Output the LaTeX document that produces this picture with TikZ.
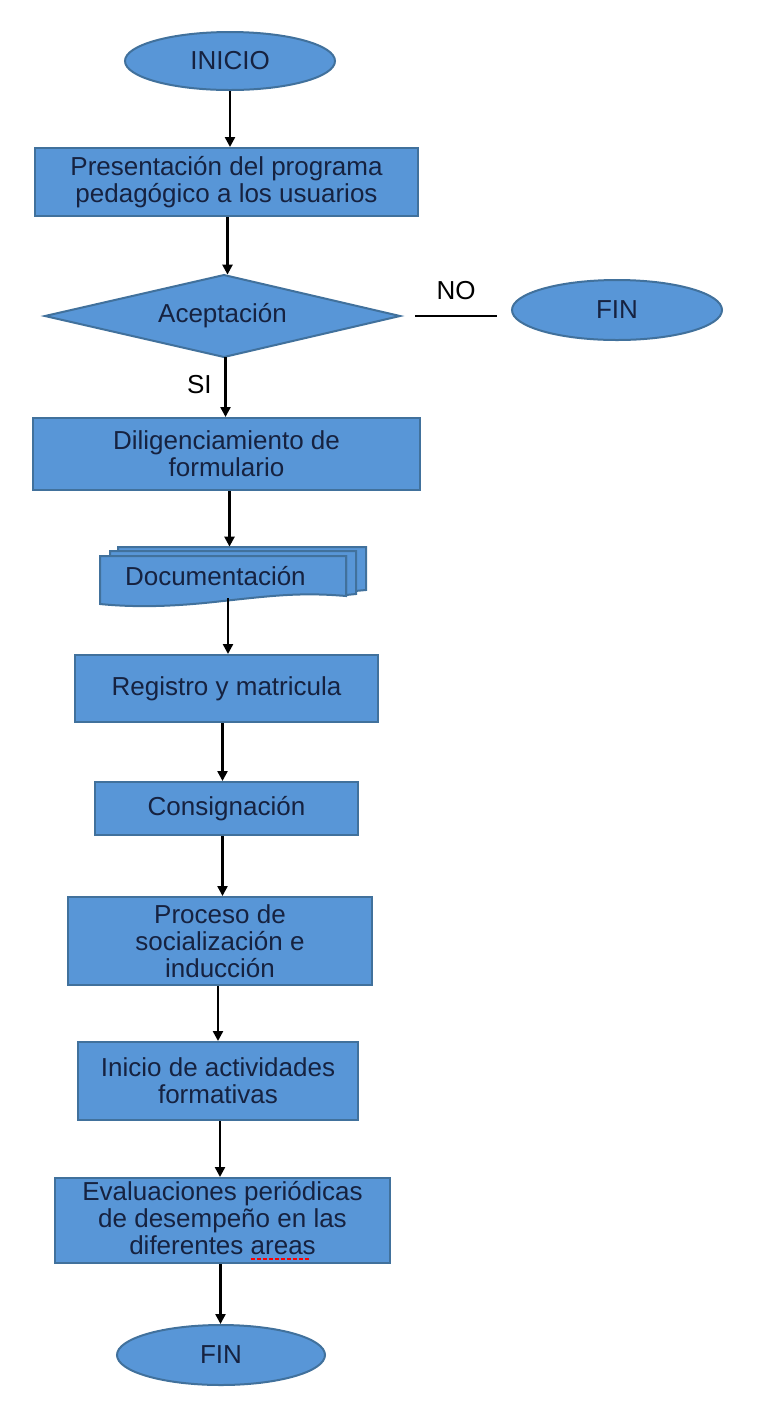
\documentclass[tikz,border=0pt]{standalone}
\usepackage{fontspec}
\setmainfont{Liberation Sans}
\usetikzlibrary{shapes.geometric,arrows.meta}
\definecolor{boxfill}{RGB}{88,150,215}
\definecolor{boxline}{RGB}{65,113,156}
\definecolor{txt}{RGB}{22,34,64}
\newsavebox{\sqbox}
\newcommand{\redsquig}[1]{\sbox{\sqbox}{#1}\rlap{\raisebox{-2.5pt}{\textcolor{red}{\leaders\hbox{\rule{2pt}{0.9pt}\hspace{1pt}}\hskip\wd\sqbox}}}#1}
\begin{document}
\begin{tikzpicture}[x=0.5pt,y=-0.5pt,
  base/.style={draw=boxline, line width=1pt, fill=boxfill, text=txt, inner sep=0pt,
    align=center, font=\fontsize{13}{13.5}\selectfont},
  box/.style={base, rectangle},
  oval/.style={base, ellipse},
  arr/.style={-{Triangle[length=5pt,width=5pt]}, line width=1.2pt, black},
  lbl/.style={font=\fontsize{13}{13.5}\selectfont, text=black}
]
\useasboundingbox (0,0) rectangle (760,1405);
\fill[white] (0,0) rectangle (760,1405);

\node[oval, minimum width=105pt, minimum height=29pt] (inicio) at (230,61) {INICIO};
\node[box, minimum width=191.5pt, minimum height=34pt] (pres) at (226.5,182) {Presentación del programa\\pedagógico a los usuarios};

% decision diamond
\filldraw[draw=boxline, line width=1pt, fill=boxfill] (45,316) -- (224,275) -- (400,316) -- (224,357) -- cycle;
\node[text=txt, font=\fontsize{13}{13.5}\selectfont, inner sep=0pt, minimum width=177.5pt, minimum height=41pt] (acep) at (222.5,316) {Aceptación};

\node[oval, minimum width=105pt, minimum height=30pt] (fin1) at (617,310) {FIN};
\node[box, minimum width=193.5pt, minimum height=36pt] (dilig) at (226.5,454) {Diligenciamiento de\\formulario};

% multi-document shape
\node[minimum width=132.5pt, minimum height=29pt, inner sep=0pt] (doc) at (232.5,576) {};
\begin{scope}[draw=boxline, line width=1pt, fill=boxfill]
  \filldraw (118,547) -- (366,547) -- (366,590) -- (355,591) -- (355,552) -- (118,552) -- cycle;
  \filldraw (110,551) -- (356,551) -- (356,594) -- (346,595) -- (346,556) -- (110,556) -- cycle;
  \filldraw (100,556) -- (346,556) -- (346,596)
     .. controls (300,592) and (270,596) .. (223,601)
     .. controls (180,606) and (140,608) .. (100,604) -- cycle;
\end{scope}
\node[text=txt, font=\fontsize{13}{13.5}\selectfont, anchor=west] (doctext) at (118,576) {Documentación};

\node[box, minimum width=151.5pt, minimum height=33.5pt] (reg) at (226.5,688.5) {Registro y matricula};
\node[box, minimum width=131.5pt, minimum height=26.5pt] (cons) at (226.5,808.5) {Consignación};
\node[box, minimum width=152pt, minimum height=44pt] (proc) at (220,941) {Proceso de\\socialización e\\inducción};
\node[box, minimum width=140pt, minimum height=39pt] (act) at (218,1081) {Inicio de actividades\\formativas};
\node[box, minimum width=167.5pt, minimum height=42.5pt] (eval) at (222.5,1220.5) {Evaluaciones periódicas\\de desempeño en las\\diferentes \redsquig{areas}};
\node[oval, minimum width=104pt, minimum height=30pt] (fin2) at (221,1355) {FIN};

\draw[arr] (inicio.south) -- (inicio.south |- pres.north);
\draw[arr] (pres.south -| acep.north) ++(5,0) coordinate (p1) -- (acep.north -| p1);
\draw[arr] (acep.south) ++(3,0) coordinate (s1) -- (dilig.north -| s1) node[pos=0.45, left=3pt, lbl] {SI};
\path (acep.east) ++(15,0) coordinate (n1);
\coordinate (n2) at (497,0);
\draw[line width=1.2pt] (n1) -- (n1 -| n2) node[midway, above=4pt, lbl] {NO};
\draw[arr] (dilig.south) ++(3,0) coordinate (d1) -- (doc.north -| d1);
\coordinate (d2) at (228,598);
\draw[arr] (d2) -- (reg.north -| d2);
\draw[arr] (reg.south) ++(-4,0) coordinate (r1) -- (cons.north -| r1);
\draw[arr] (cons.south) ++(-4,0) coordinate (c1) -- (proc.north -| c1);
\draw[arr] (proc.south) ++(-2,0) coordinate (pr1) -- (act.north -| pr1);
\draw[arr] (act.south) ++(2,0) coordinate (a1) -- (eval.north -| a1);
\draw[arr] (eval.south) ++(-2,0) coordinate (e1) -- (fin2.north -| e1);
\end{tikzpicture}
\end{document}
